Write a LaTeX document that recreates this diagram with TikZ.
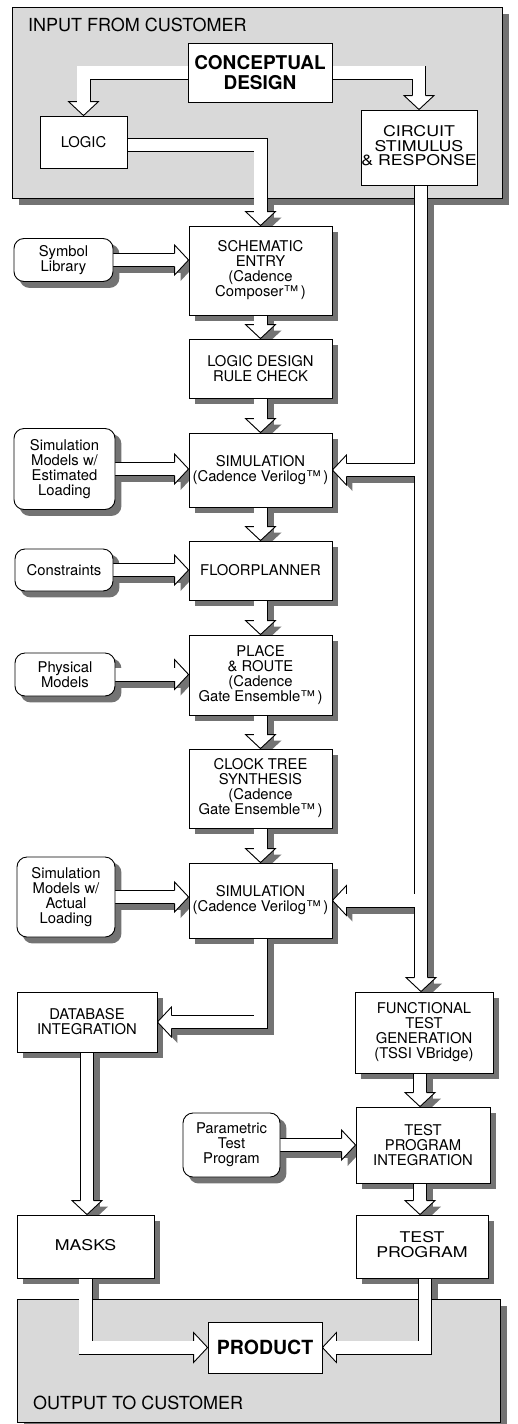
\documentclass[tikz,border=0pt]{standalone}
\usepackage{fontspec}
\usepackage{graphicx}
\setmainfont{TeX Gyre Heros}
\usetikzlibrary{calc}
\pgfdeclarelayer{shad}
\pgfdeclarelayer{panel}
\pgfdeclarelayer{pipes}
\pgfsetlayers{shad,panel,pipes,main}
\definecolor{shadowc}{gray}{0.45}
\definecolor{panelc}{gray}{0.85}
\newcommand\bodyfont{\fontsize{14.8}{15}\selectfont}
\newcommand\widetxt[1]{\scalebox{1.2}[1]{\fontsize{14.8}{12.5}\selectfont\begin{tabular}{@{}c@{}}#1\end{tabular}}}
\newcommand\allpipes[1]{%
  \draw[#1] (cd.west) -| (logic.north);
  \draw[#1] (cd.east) -| (circ.north);
  \draw[#1] (l3) -| (sch.north);
  \draw[#1] (sym.east) -- (sym.east -| sch.west);
  \draw[#1] (sch.south) -- (ldrc.north);
  \draw[#1] (ldrc.south) -- (sim1.north);
  \draw[#1] (sme.east) -- (sme.east -| sim1.west);
  \draw[#1] (sim1.south) -- (floor.north);
  \draw[#1] (cons.east) -- (cons.east -| floor.west);
  \draw[#1] (floor.south) -- (pr.north);
  \draw[#1] (phys.east) -- (phys.east -| pr.west);
  \draw[#1] (pr.south) -- (clock.north);
  \draw[#1] (clock.south) -- (sim2.north);
  \draw[#1] (sma.east) -- (sma.east -| sim2.west);
  \draw[#1] (sim2.south) |- (db.east);
  \draw[#1] (db.south) -- (db.south |- masks.north);
  \draw[#1] (masks.south) |- (prod.west);
  \draw[#1] (t3) |- (prod.east);
  \draw[#1] (f1) -- (f1 |- tpi.north);
  \draw[#1] (param.east) -- (tpi.west);
  \draw[#1] (f1 |- tpi.south) -- (f1 |- tp.north);
  \draw[#1] (r0) -- (r0 |- ftg.north);
  \draw[#1] (r0 |- sim1.east) -- (sim1.east);
  \draw[#1] (r0 |- sim2.east) -- (sim2.east);
}
% #1: head pic for right/down heads, #2: head pic for left-pointing heads
\newcommand\allheads[2]{%
  \pic[rotate=-90] at (logic.north) {#1};
  \pic[rotate=-90] at (circ.north) {#1};
  \pic[rotate=-90] at (sch.north) {#1};
  \pic at (sym.east -| sch.west) {#1};
  \pic[rotate=-90] at (ldrc.north) {#1};
  \pic[rotate=-90] at (sim1.north) {#1};
  \pic at (sme.east -| sim1.west) {#1};
  \pic[rotate=-90] at (floor.north) {#1};
  \pic at (cons.east -| floor.west) {#1};
  \pic[rotate=-90] at (pr.north) {#1};
  \pic at (phys.east -| pr.west) {#1};
  \pic[rotate=-90] at (clock.north) {#1};
  \pic[rotate=-90] at (sim2.north) {#1};
  \pic at (sma.east -| sim2.west) {#1};
  \pic[rotate=180] at (db.east) {#2};
  \pic[rotate=-90] at (db.south |- masks.north) {#1};
  \pic at (prod.west) {#1};
  \pic[rotate=180] at (prod.east) {#2};
  \pic[rotate=-90] at (f1 |- tpi.north) {#1};
  \pic at (tpi.west) {#1};
  \pic[rotate=-90] at (f1 |- tp.north) {#1};
  \pic[rotate=-90] at (r0 |- ftg.north) {#1};
  \pic[rotate=180] at (sim1.east) {#2};
  \pic[rotate=180] at (sim2.east) {#2};
}
\begin{document}
\begin{tikzpicture}[x=1pt,y=-1pt,
  box/.style={draw, fill=white, line width=0.9pt, align=center, inner sep=0pt, font=\bodyfont},
  inbox/.style={box, rounded corners=10pt},
  pipeo/.style={line width=14pt, line join=miter, draw=black, shorten >=14pt},
  pipei/.style={line width=12.2pt, line join=miter, draw=white, shorten >=14pt},
  pipesh/.style={line width=14pt, line join=miter, draw=shadowc, shorten >=14pt},
  ahead/.pic={\fill[white] (-14,-15) -- (0,0) -- (-14,15) -- cycle;
    \draw[line width=0.9pt, line join=miter] (-14,-6.55) -- (-14,-15) -- (0,0) -- (-14,15) -- (-14,6.55);},
  asha/.pic={\fill[shadowc] (-14,-15) -- (0,0) -- (-14,15) -- cycle;},
  ashb/.pic={\fill[shadowc] (-14,-15) -- (0,0) -- (-14,6) -- cycle;},
  lbl/.style={anchor=west, inner sep=0pt, font=\fontsize{18}{20}\selectfont}
]
\useasboundingbox (0,0) rectangle (517,1424);

% panels
\begin{pgfonlayer}{shad}
  \fill[shadowc] (19,14) rectangle (509,205);
  \fill[shadowc] (24,1306) rectangle (507,1429);
\end{pgfonlayer}
\begin{pgfonlayer}{panel}
  \draw[fill=panelc, line width=0.9pt] (12,7) rectangle (502,198);
  \draw[fill=panelc, line width=0.9pt] (17,1299) rectangle (500,1422);
\end{pgfonlayer}
\node[lbl] (inlbl) at (28,25) {INPUT FROM CUSTOMER};
\node[lbl] (outlbl) at (33,1403) {OUTPUT TO CUSTOMER};

% nodes
\node[box, minimum width=144, minimum height=59, font=\fontsize{19}{20}\selectfont\bfseries] (cd) at (260,72.5) {CONCEPTUAL\\DESIGN};
\node[box, minimum width=87, minimum height=52] (logic) at (83.5,142) {LOGIC};
\node[box, minimum width=116, minimum height=75] (circ) at (419,147.5) {\widetxt{CIRCUIT\\STIMULUS\\\& RESPONSE}};
\node[box, minimum width=143, minimum height=89] (sch) at (260.5,270.5) {SCHEMATIC\\ENTRY\\(Cadence\\Composer™\,)};
\node[inbox, minimum width=99, minimum height=43] (sym) at (63.5,260) {Symbol\\Library};
\node[box, minimum width=143, minimum height=59] (ldrc) at (260.5,368.5) {LOGIC DESIGN\\RULE CHECK};
\node[box, minimum width=143, minimum height=74] (sim1) at (260.5,470) {SIMULATION\\(Cadence Verilog™\,)};
\node[inbox, minimum width=101, minimum height=81] (sme) at (64.5,469) {Simulation\\Models w/\\Estimated\\Loading};
\node[box, minimum width=143, minimum height=59] (floor) at (260.5,570.5) {FLOORPLANNER};
\node[inbox, minimum width=98, minimum height=42] (cons) at (64,570) {Constraints};
\node[box, minimum width=143, minimum height=80] (pr) at (260.5,675) {PLACE\\\& ROUTE\\(Cadence\\Gate Ensemble™\,)};
\node[inbox, minimum width=100, minimum height=43] (phys) at (65,674.5) {Physical\\Models};
\node[box, minimum width=143, minimum height=79] (clock) at (260.5,788.5) {CLOCK TREE\\SYNTHESIS\\(Cadence\\Gate Ensemble™\,)};
\node[box, minimum width=143, minimum height=75] (sim2) at (260.5,900.5) {SIMULATION\\(Cadence Verilog™\,)};
\node[inbox, minimum width=98, minimum height=80] (sma) at (66,897) {Simulation\\Models w/\\Actual\\Loading};
\node[box, minimum width=140, minimum height=60] (db) at (87,1022) {DATABASE\\INTEGRATION};
\node[box, minimum width=138, minimum height=81] (ftg) at (424,1032.5) {FUNCTIONAL\\TEST\\GENERATION\\(TSSI VBridge)};
\node[inbox, minimum width=97, minimum height=64] (param) at (231.5,1145) {Parametric\\Test\\Program};
\node[box, minimum width=134, minimum height=76] (tpi) at (423,1145) {TEST\\PROGRAM\\INTEGRATION};
\node[box, minimum width=137, minimum height=63] (masks) at (85.5,1246.5) {\widetxt{MASKS}};
\node[box, minimum width=132, minimum height=63] (tp) at (422,1246.5) {\widetxt{TEST\\PROGRAM}};
\node[box, minimum width=114, minimum height=51, font=\fontsize{19.5}{20}\selectfont\bfseries] (prod) at (265,1347.5) {PRODUCT};

\coordinate (l3) at ($(logic.east)+(0,3)$);
\coordinate (t3) at ($(tp.south)+(3,0)$);
\coordinate (f1) at ($(ftg.south)+(-4,0)$);
\coordinate (r0) at ($(circ.south)+(2,0)$);

% shadows
\begin{pgfonlayer}{shad}
  \foreach \n in {sch,ldrc,sim1,floor,pr,clock,sim2,db,ftg,tpi,masks,tp}
    \fill[shadowc] ($(\n.north west)+(6,6)$) rectangle ($(\n.south east)+(6,6)$);
  \foreach \n in {sym,sme,cons,phys,sma,param}
    \fill[shadowc, rounded corners=10pt] ($(\n.north west)+(6,6)$) rectangle ($(\n.south east)+(6,6)$);
  \begin{scope}[transform canvas={xshift=6pt,yshift=-6pt}]
    \allpipes{pipesh}
    \allheads{asha}{ashb}
  \end{scope}
\end{pgfonlayer}

% hollow arrows
\begin{pgfonlayer}{pipes}
  \allpipes{pipeo}
  \allpipes{pipei}
  \allheads{ahead}{ahead}
\end{pgfonlayer}
\end{tikzpicture}
\end{document}
